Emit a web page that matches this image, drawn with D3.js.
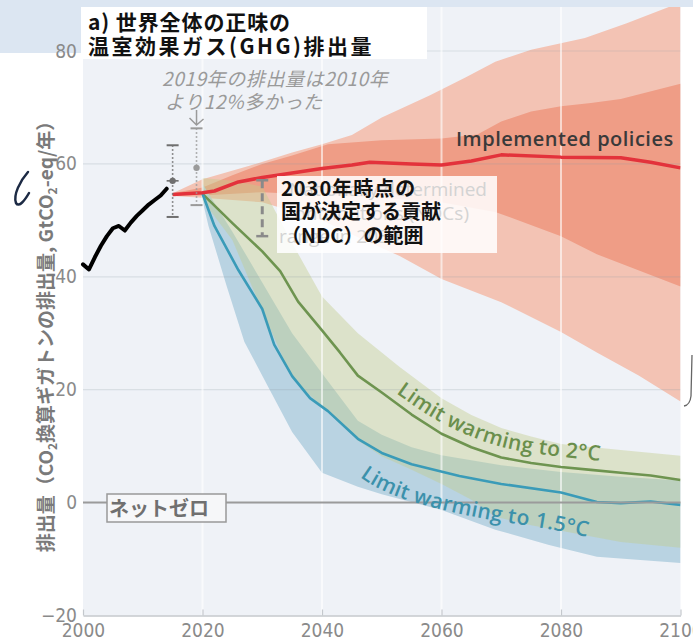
<!DOCTYPE html>
<html>
<head>
<meta charset="utf-8">
<script src="https://cdn.jsdelivr.net/npm/d3@7"></script>
<style>
  body { margin: 0; background: #fff; }
  svg { display: block; }
</style>
</head>
<body>
<svg id="chart" width="693" height="640"></svg>
<script>
// historical emissions
const histYears = [2000, 2001, 2002, 2003, 2004, 2005, 2006, 2007, 2008, 2009, 2010, 2011, 2012, 2013, 2014]
const histValues = [42.2, 41.3, 43.5, 45.5, 47.2, 48.6, 49.0, 48.2, 49.6, 50.8, 51.8, 52.8, 53.6, 54.4, 55.6]

// observed ranges (2015, 2019)
const obsYears = [2015, 2019]
const obsMid = [57.0, 59.3]
const obsLo = [50.6, 52.7]
const obsHi = [63.3, 66.3]

// NDC range in 2030
const ndcYear = 2030
const ndcLo = 47.2
const ndcHi = 57.1

// implemented policies
const polYears = [2015, 2020, 2022, 2026, 2030, 2035, 2040, 2045, 2048, 2055, 2060, 2065, 2070, 2080, 2090, 2095, 2100]
const polValues = [54.6, 54.9, 55.2, 56.8, 57.6, 58.4, 59.2, 59.8, 60.3, 60.0, 59.8, 60.5, 61.6, 61.2, 61.1, 60.3, 59.3]
const polOuterHiYears = [2015, 2020, 2028, 2035, 2040, 2045, 2050, 2058, 2064, 2069, 2075, 2084, 2091, 2100]
const polOuterHi = [54.8, 57.3, 59.7, 62.0, 63.5, 65.1, 68.2, 72.1, 75.3, 78.1, 80.2, 82.3, 84.9, 88.6]
const polOuterLoYears = [2015, 2020, 2030, 2040, 2047, 2053, 2060, 2070, 2080, 2086, 2093, 2100]
const polOuterLo = [54.3, 54.0, 53.2, 50.0, 46.5, 43.7, 39.6, 35.5, 30.2, 26.6, 22.5, 17.9]
const polInnerHiYears = [2015, 2020, 2025, 2030, 2035, 2041, 2050, 2060, 2066, 2070, 2075, 2080, 2085, 2090, 2100]
const polInnerHi = [54.8, 55.8, 58.0, 60.0, 61.5, 63.5, 64.2, 64.5, 65.2, 67.5, 69.3, 70.2, 70.8, 71.5, 74.2]
const polInnerLoYears = [2015, 2020, 2030, 2040, 2050, 2060, 2069, 2080, 2086, 2100]
const polInnerLo = [54.4, 54.4, 55.0, 54.5, 54.0, 53.2, 51.5, 47.2, 44.0, 38.3]

// limit warming to 2°C
const c2Years = [2020, 2025, 2030, 2033, 2036, 2040, 2043, 2046, 2050, 2055, 2060, 2065, 2070, 2075, 2080, 2085, 2090, 2095, 2100]
const c2Values = [54.7, 49.5, 44.5, 41.0, 35.6, 30.5, 26.6, 22.5, 19.5, 15.6, 12.2, 9.8, 8.0, 7.0, 6.3, 5.8, 5.3, 4.8, 4.0]
const c2HiYears = [2020, 2025, 2030, 2035, 2040, 2046, 2053, 2060, 2065, 2070, 2075, 2080, 2090, 2100]
const c2Hi = [57.5, 57.0, 56.0, 46.0, 36.5, 30.0, 24.0, 18.5, 15.5, 13.2, 11.7, 10.4, 9.3, 8.3]
const c2LoYears = [2020, 2025, 2030, 2035, 2041, 2046, 2050, 2055, 2060, 2065, 2069, 2075, 2080, 2086, 2090, 2100]
const c2Lo = [53.5, 46.5, 34.0, 22.0, 16.0, 11.0, 8.2, 5.8, 3.3, 0.5, -2.5, -4.0, -5.0, -6.2, -7.0, -8.0]

// limit warming to 1.5°C
const c15Years = [2020, 2022, 2026, 2030, 2032, 2035, 2038, 2041, 2046, 2050, 2055, 2063, 2070, 2080, 2086, 2090, 2095, 2100]
const c15Values = [54.7, 49.0, 41.2, 34.3, 28.0, 22.4, 18.5, 16.2, 11.3, 8.8, 6.8, 4.7, 3.3, 1.8, 0.1, -0.1, 0.2, -0.4]
const c15HiYears = [2020, 2025, 2030, 2035, 2041, 2046, 2050, 2055, 2060, 2070, 2080, 2090, 2100]
const c15Hi = [56.5, 48.0, 39.0, 30.0, 21.5, 14.5, 12.0, 9.8, 8.4, 6.6, 5.4, 4.6, 3.9]
const c15LoYears = [2020, 2021, 2024, 2027, 2031, 2035, 2040, 2046, 2050, 2060, 2069, 2078, 2086, 2100]
const c15Lo = [53.5, 49.0, 38.5, 28.5, 20.5, 12.5, 5.3, 2.8, 1.5, -1.3, -4.8, -7.5, -9.6, -10.7]

const xTicks = [2000, 2020, 2040, 2060, 2080, 2100]
const yTicks = [-20, 0, 20, 40, 60, 80]

const svg = d3.select('#chart')
const x = d3.scaleLinear().domain([2000, 2100]).range([83, 680.5])
const y = d3.scaleLinear().domain([-20, 80]).range([615.5, 51])
const plotTop = 6

const jp = '"Noto Sans CJK JP", "Noto Sans", sans-serif'
const en = '"Open Sans", "Noto Sans", sans-serif'
const narrow = '"Liberation Sans Narrow", "DejaVu Sans Condensed", sans-serif'

// page frame
svg.append('rect').attr('x', 0).attr('y', 0).attr('width', 693).attr('height', 640).attr('fill', '#fff')
svg.append('rect').attr('x', 83).attr('y', plotTop).attr('width', x(2100) - 83).attr('height', y(-20) - plotTop).attr('fill', '#eff2f7')
svg.append('rect').attr('x', 0).attr('y', 0).attr('width', 693).attr('height', plotTop + 1).attr('fill', '#dce6f2')
svg.append('rect').attr('x', 0).attr('y', 0).attr('width', 81).attr('height', 53).attr('fill', '#dce6f2')

svg.append('clipPath').attr('id', 'plot')
  .append('rect').attr('x', 83).attr('y', plotTop + 1).attr('width', x(2100) - 83).attr('height', y(-20) - plotTop)

const g = svg.append('g').attr('clip-path', 'url(#plot)')

const line = d3.line().x(d => x(d[0])).y(d => y(d[1]))
function pairs(years, vals) { return years.map((t, i) => [t, vals[i]]) }
function band(hy, hv, ly, lv) {
  return line(pairs(hy, hv).concat(pairs(ly, lv).reverse())) + 'Z'
}

// policy fan
g.append('path').attr('d', band(polOuterHiYears, polOuterHi, polOuterLoYears, polOuterLo)).attr('fill', '#f3c3b4')
g.append('path').attr('d', band(polInnerHiYears, polInnerHi, polInnerLoYears, polInnerLo)).attr('fill', '#ef9d86')

// pathways
g.append('path').attr('d', band(c15HiYears, c15Hi, c15LoYears, c15Lo)).attr('fill', '#b9d3e2')
g.append('path').attr('d', band(c2HiYears, c2Hi, c2LoYears, c2Lo)).attr('fill', '#c2cd8c').attr('opacity', 0.42)

// grid on top of bands
g.selectAll('.hgrid').data(yTicks.filter(v => v > -20)).join('line')
  .attr('x1', 83).attr('x2', x(2100)).attr('y1', d => y(d)).attr('y2', d => y(d))
  .attr('stroke', '#8f99a6').attr('stroke-opacity', 0.22).attr('stroke-width', 1.2)
g.selectAll('.vgrid').data(xTicks.slice(1, -1)).join('line')
  .attr('x1', d => x(d)).attr('x2', d => x(d)).attr('y1', plotTop).attr('y2', y(-20))
  .attr('stroke', '#fff').attr('stroke-opacity', 0.6).attr('stroke-width', 2)

// white box behind the title
svg.append('rect').attr('x', 81).attr('y', plotTop + 1).attr('width', 346).attr('height', 52).attr('fill', '#fff')

// net zero line
svg.append('line').attr('x1', 83).attr('x2', x(2100)).attr('y1', y(0)).attr('y2', y(0))
  .attr('stroke', '#9b9b9b').attr('stroke-width', 2)

// lines
g.append('path').attr('d', line(pairs(c2Years, c2Values))).attr('fill', 'none')
  .attr('stroke', '#6e9450').attr('stroke-width', 2.6).attr('stroke-linejoin', 'round')
g.append('path').attr('d', line(pairs(c15Years, c15Values))).attr('fill', 'none')
  .attr('stroke', '#3a9bb8').attr('stroke-width', 2.6).attr('stroke-linejoin', 'round')
g.append('path').attr('d', line(pairs(polYears, polValues))).attr('fill', 'none')
  .attr('stroke', '#e3323b').attr('stroke-width', 3.5).attr('stroke-linejoin', 'round')
svg.append('path').attr('d', line(pairs(histYears, histValues))).attr('fill', 'none')
  .attr('stroke', '#000').attr('stroke-width', 4).attr('stroke-linejoin', 'round').attr('stroke-linecap', 'round')

// observed error bars
obsYears.forEach((t, i) => {
  const col = i === 0 ? '#6f6f6f' : '#9a9a9a'
  const b = svg.append('g').attr('stroke', col)
  b.append('line').attr('x1', x(t)).attr('x2', x(t)).attr('y1', y(obsHi[i])).attr('y2', y(obsLo[i]))
    .attr('stroke-width', 1.6).attr('stroke-dasharray', '1.5,2.5')
  ;[obsHi[i], obsLo[i]].forEach(v => {
    b.append('line').attr('x1', x(t) - 6).attr('x2', x(t) + 6).attr('y1', y(v)).attr('y2', y(v)).attr('stroke-width', 2)
  })
  if (i === 0) b.append('line').attr('x1', x(t) - 6).attr('x2', x(t) + 6).attr('y1', y(obsMid[i])).attr('y2', y(obsMid[i])).attr('stroke-width', 1.6)
  b.append('circle').attr('cx', x(t)).attr('cy', y(obsMid[i])).attr('r', 3.2).attr('fill', col).attr('stroke', 'none')
})

// NDC bar
const nd = svg.append('g').attr('stroke', '#8a8a8a')
nd.append('line').attr('x1', x(ndcYear)).attr('x2', x(ndcYear)).attr('y1', y(ndcHi)).attr('y2', y(ndcLo))
  .attr('stroke-width', 3).attr('stroke-dasharray', '8,5')
;[ndcHi, ndcLo].forEach(v => {
  nd.append('line').attr('x1', x(ndcYear) - 6).attr('x2', x(ndcYear) + 6).attr('y1', y(v)).attr('y2', y(v)).attr('stroke-width', 2.5)
})

// NDC label box
svg.append('rect').attr('x', 277).attr('y', 176).attr('width', 220).attr('height', 77)
  .attr('fill', '#fff').attr('opacity', 0.86)
const ghost = svg.append('text').attr('font-family', en).attr('font-size', 19).attr('fill', '#d3d3d3')
ghost.append('tspan').attr('x', 487).attr('y', 196).attr('text-anchor', 'end').text('Nationally determined')
ghost.append('tspan').attr('x', 469).attr('y', 220).attr('text-anchor', 'end').text('contributions (NDCs)')
ghost.append('tspan').attr('x', 279).attr('y', 243).text('range in 2030')
const ndcT = svg.append('text').attr('font-family', jp).attr('font-weight', 700).attr('font-size', 20).attr('fill', '#111')
ndcT.append('tspan').attr('x', 281).attr('y', 196).attr('letter-spacing', 1).text('2030年時点の')
ndcT.append('tspan').attr('x', 281).attr('y', 219).text('国が決定する貢献')
ndcT.append('tspan').attr('x', 281).attr('y', 243).text('（NDC）の範囲')

// net zero box
svg.append('rect').attr('x', 107).attr('y', 494).attr('width', 119).attr('height', 28)
  .attr('fill', '#f6f7f9').attr('stroke', '#999').attr('stroke-width', 1.5)
svg.append('text').attr('x', 109).attr('y', 516).attr('font-family', jp).attr('font-weight', 700)
  .attr('font-size', 20).attr('fill', '#707070').text('ネットゼロ')

// series labels
svg.append('text').attr('x', 456).attr('y', 146).attr('font-family', en).attr('font-weight', 600)
  .attr('font-size', 20).attr('letter-spacing', 0.5).attr('fill', '#3a3a3a').text('Implemented policies')

const defs = svg.append('defs')
const smooth = d3.line().x(d => x(d[0])).curve(d3.curveBasis)
function offsetPath(years, vals, from, dy) {
  const pts = pairs(years, vals).filter(d => d[0] >= from)
  return smooth.y(d => y(d[1]) + dy)(pts)
}
defs.append('path').attr('id', 'lab2').attr('d', offsetPath(c2Years, c2Values, 2050, -10))
defs.append('path').attr('id', 'lab15').attr('d', offsetPath(c15Years, c15Values, 2041, 38))
svg.append('text').attr('font-family', en).attr('font-weight', 600).attr('font-size', 21).attr('letter-spacing', 0.3).attr('fill', '#6a8f4c')
  .append('textPath').attr('href', '#lab2').attr('startOffset', 18).text('Limit warming to 2°C')
svg.append('text').attr('font-family', en).attr('font-weight', 600).attr('font-size', 21).attr('letter-spacing', 0.3).attr('fill', '#3b91ab')
  .append('textPath').attr('href', '#lab15').attr('startOffset', 42).text('Limit warming to 1.5°C')

// title
const title = svg.append('text').attr('font-family', jp).attr('font-weight', 700).attr('font-size', 21).attr('fill', '#111')
title.append('tspan').attr('x', 88).attr('y', 30).attr('letter-spacing', 0.9).text('a) 世界全体の正味の')
title.append('tspan').attr('x', 88).attr('y', 54).attr('letter-spacing', 2.5).text('温室効果ガス(GHG)排出量')

// annotation
const note = svg.append('text').attr('font-family', jp).attr('font-style', 'italic').attr('font-size', 19).attr('fill', '#9a9a9a')
note.append('tspan').attr('x', 162).attr('y', 86).attr('letter-spacing', 0.6).text('2019年の排出量は2010年')
note.append('tspan').attr('x', 165).attr('y', 109).attr('letter-spacing', 0.6).text('より12%多かった')
svg.append('path').attr('d', `M${x(2019)},110 L${x(2019)},125 M${x(2019) - 7},118 L${x(2019)},125 L${x(2019) + 7},119`)
  .attr('fill', 'none').attr('stroke', '#9a9a9a').attr('stroke-width', 1.5)

// axes
const xAxis = svg.append('g').attr('transform', `translate(0,${y(-20)})`)
  .call(d3.axisBottom(x).tickValues(xTicks).tickFormat(d3.format('d')).tickSizeInner(-6).tickSizeOuter(0).tickPadding(8))
xAxis.select('.domain').attr('stroke', '#c4c8cd').attr('stroke-width', 1.5)
xAxis.selectAll('.tick line').attr('stroke', '#c4c8cd').attr('stroke-width', 1.2)
xAxis.selectAll('.tick text').attr('font-family', narrow).attr('font-size', 19).attr('fill', '#8a8a8a')

const yAxis = svg.append('g').attr('transform', 'translate(78,0)')
  .call(d3.axisLeft(y).tickValues(yTicks).tickFormat(d => d < 0 ? '\u2212' + Math.abs(d) : d).tickSize(0).tickPadding(1))
yAxis.select('.domain').remove()
yAxis.selectAll('.tick text').attr('font-family', narrow).attr('font-size', 19).attr('fill', '#8a8a8a')

// y title
const yl = svg.append('text').attr('transform', 'translate(53,332) rotate(-90)').attr('text-anchor', 'middle')
  .attr('font-family', jp).attr('font-weight', 700).attr('font-size', 19).attr('fill', '#7a7a7a')
yl.append('tspan').text('排出量（CO')
yl.append('tspan').attr('font-size', 12).attr('dy', 4).text('2')
yl.append('tspan').attr('dy', -4).text('換算ギガトンの排出量, GtCO')
yl.append('tspan').attr('font-size', 12).attr('dy', 4).text('2')
yl.append('tspan').attr('dy', -4).text('-eq/年）')

// stray marks at the edges of the screenshot
svg.append('path').attr('d', 'M28,172 C20,181 13,195 16,203 C19,208 25,200 29,193')
  .attr('fill', 'none').attr('stroke', '#1c2a44').attr('stroke-width', 2.5).attr('stroke-linecap', 'round')
svg.append('path').attr('d', 'M692,355 L691,396 Q690,405 684,406')
  .attr('fill', 'none').attr('stroke', '#666').attr('stroke-width', 1.3)
</script>
</body>
</html>
